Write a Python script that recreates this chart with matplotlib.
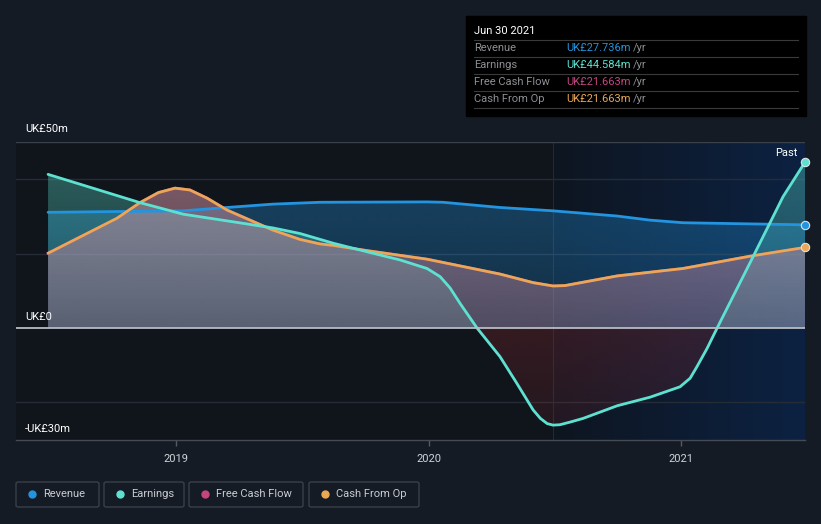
import numpy as np
import matplotlib
matplotlib.use("Agg")
import matplotlib.pyplot as plt
from matplotlib.colors import LinearSegmentedColormap, to_rgb
from matplotlib.patches import FancyBboxPatch, Rectangle
from matplotlib.path import Path

plt.rcParams['font.family'] = ['Roboto', 'DejaVu Sans']

W, H = 821, 524

# values in UK£m, dates as decimal years
rev_t = [2018.493, 2019.028, 2019.202, 2019.384, 2019.570, 2019.994, 2020.057,
         2020.283, 2020.493, 2020.747, 2020.877, 2021.008, 2021.491]
rev_v = [31.1, 31.5, 32.4, 33.3, 33.8, 33.9, 33.8, 32.4, 31.5, 30.1, 29.0, 28.3, 27.736]

earn_t = [2018.493, 2018.857, 2019.028, 2019.202, 2019.384, 2019.491, 2019.622,
          2019.756, 2019.887, 2019.994, 2020.046, 2020.085, 2020.125, 2020.192,
          2020.283, 2020.350, 2020.414, 2020.443, 2020.470, 2020.493, 2020.520,
          2020.560, 2020.612, 2020.747, 2020.877, 2020.996, 2021.036, 2021.063,
          2021.103, 2021.143, 2021.273, 2021.404, 2021.491]
earn_v = [41.3, 33.7, 30.6, 28.8, 26.9, 25.4, 22.8, 20.5, 18.3, 16.0, 13.8, 10.8,
          6.6, 0.0, -7.7, -14.9, -22.0, -24.3, -25.7, -26.1, -26.0, -25.3, -24.3,
          -20.9, -18.6, -15.8, -13.5, -10.4, -5.5, 0.0, 17.5, 35.3, 44.584]

cfo_t = [2018.493, 2018.766, 2018.857, 2018.930, 2018.996, 2019.055, 2019.123,
         2019.202, 2019.384, 2019.491, 2019.570, 2019.622, 2019.756, 2019.994,
         2020.153, 2020.283, 2020.414, 2020.493, 2020.540, 2020.747, 2021.008,
         2021.273, 2021.491]
cfo_v = [20.1, 29.5, 33.7, 36.4, 37.6, 37.1, 34.9, 31.7, 26.3, 23.8, 22.6, 22.2,
         20.8, 18.5, 16.3, 14.5, 12.2, 11.3, 11.4, 14.0, 16.0, 19.3, 21.663]

# free cash flow equals cash from op in this data
fcf_t = cfo_t
fcf_v = cfo_v

C_REV = '#2394df'
C_EARN = '#5de2d2'
C_FCF = '#c4467f'
C_CFO = '#e9a857'
BG = '#151b25'

fig = plt.figure(figsize=(W / 100, H / 100), dpi=100, facecolor=BG)
ax = fig.add_axes([16 / W, 1 - 440 / H, 789 / W, 298 / H])
ax.set_facecolor('#10141b')

x0, x1 = 2018.366, 2021.491
y0, y1 = -30.1, 50
past = 2020.493


def gradient_fill(t, v, color, a_top, a_bot, where=None):
    """fill between line and zero, opacity fading from top of chart to bottom"""
    poly = ax.fill_between(t, v, 0, where=where, interpolate=True,
                           color='none', lw=0)
    paths = poly.get_paths()
    if not paths:
        return
    clip = Path.make_compound_path(*paths)
    n = 256
    img = np.zeros((n, 1, 4))
    img[..., :3] = to_rgb(color)
    img[..., 3] = np.linspace(a_bot, a_top, n).reshape(-1, 1)
    im = ax.imshow(img, extent=[x0, x1, y0, y1], aspect='auto', origin='lower',
                   zorder=2, interpolation='bilinear')
    im.set_clip_path(clip, transform=ax.transData)


# "past" gradient region
cmap = LinearSegmentedColormap.from_list('past', ['#0e1520', '#0c2242'])
grad = np.linspace(0, 1, 256).reshape(1, -1)
ax.imshow(grad, extent=[past, x1, y0, y1], aspect='auto', cmap=cmap, zorder=0)
ax.axvline(past, color='#1f2a3a', lw=0.8, zorder=0.5)

# grid
for g in [40, 20, -20]:
    ax.axhline(g, color='#262c36', lw=1, zorder=1)
ax.axhline(50, color='#3b414b', lw=1, zorder=1)
ax.axhline(0, color='#b8bcc2', lw=1.3, zorder=6)

# fills
ev = np.array(earn_v)
gradient_fill(rev_t, rev_v, C_REV, 0.40, 0.10)
gradient_fill(earn_t, earn_v, C_EARN, 0.38, 0.05, where=ev >= 0)
gradient_fill(earn_t, earn_v, '#8a2a30', 0.55, 0.15, where=ev <= 0)
gradient_fill(fcf_t, fcf_v, C_FCF, 0.40, 0.08)
gradient_fill(cfo_t, cfo_v, '#d8cfc0', 0.35, 0.05)

# lines
ax.plot(rev_t, rev_v, color=C_REV, lw=2, zorder=4, solid_capstyle='round')
ax.plot(earn_t, earn_v, color=C_EARN, lw=2, zorder=5, solid_capstyle='round')
ax.plot(fcf_t, fcf_v, color=C_FCF, lw=2, zorder=4)
ax.plot(cfo_t, cfo_v, color=C_CFO, lw=2, zorder=4.5, solid_capstyle='round')

# end markers
for t, v, c in [(rev_t, rev_v, C_REV), (earn_t, earn_v, C_EARN), (cfo_t, cfo_v, C_CFO)]:
    ax.plot(t[-1], v[-1], 'o', ms=6, color=c, mec='#dde3ea', mew=0.8,
            zorder=7, clip_on=False)

ax.set_xlim(x0, x1)
ax.set_ylim(y0, y1)
ax.set_yticks([])
ax.set_xticks([2019, 2020, 2021])
ax.set_xticklabels(['2019', '2020', '2021'])
ax.tick_params(axis='x', colors='#555b63', length=4, width=1, labelcolor='#d0d3d7',
               labelsize=8, pad=6)
for s in ['top', 'right', 'left']:
    ax.spines[s].set_visible(False)
ax.spines['bottom'].set_color('#454b54')
ax.spines['bottom'].set_linewidth(1)


def ftext(x, y, s, **kw):
    fig.text(x / W, 1 - y / H, s, **kw)


# y labels
ftext(25, 129, 'UK£50m', color='#ffffff', fontsize=8, va='center')
ftext(25, 317, 'UK£0', color='#ffffff', fontsize=8, va='center', zorder=10)
ftext(25, 429, '-UK£30m', color='#ffffff', fontsize=8, va='center')
ftext(797, 153, 'Past', color='#ffffff', fontsize=8, va='center', ha='right')

# tooltip box
fig.patches.append(Rectangle((466 / W, 1 - 116 / H), 340 / W, 100 / H,
                             transform=fig.transFigure, color='#000000', zorder=20))
ftext(474, 31, 'Jun 30 2021', color='#ffffff', fontsize=8, va='center', zorder=21)
rows = ['Revenue', 'Earnings', 'Free Cash Flow', 'Cash From Op']
vals = ['UK£27.736m', 'UK£44.584m', 'UK£21.663m', 'UK£21.663m']
cols = [C_REV, C_EARN, C_FCF, C_CFO]
for i, (r, v, c) in enumerate(zip(rows, vals, cols)):
    yy = 48 + 17 * i
    fig.add_artist(plt.Line2D([474 / W, 798 / W], [1 - (yy - 8) / H] * 2,
                              color='#3a3a3a', lw=0.8, zorder=21))
    ftext(474, yy, r, color='#8c8f94', fontsize=8, va='center', zorder=21)
    ftext(566, yy, v, color=c, fontsize=8, va='center', zorder=21)
    ftext(633, yy, '/yr', color='#8c8f94', fontsize=8, va='center', zorder=21)
fig.add_artist(plt.Line2D([474 / W, 798 / W], [1 - 108 / H] * 2,
                          color='#3a3a3a', lw=0.8, zorder=21))

# legend boxes
legend = [('Revenue', C_REV, 16, 99), ('Earnings', C_EARN, 104, 184),
          ('Free Cash Flow', C_FCF, 189, 303), ('Cash From Op', C_CFO, 309, 419)]
for name, c, lx, rx in legend:
    fig.patches.append(FancyBboxPatch((lx / W, 1 - 507 / H), (rx - lx) / W, 25 / H,
                                      boxstyle='round,pad=0,rounding_size=0.003',
                                      transform=fig.transFigure, fc='none',
                                      ec='#3a404a', lw=1))
    fig.add_artist(plt.Line2D([(lx + 16) / W], [1 - 494 / H], marker='o', ms=5,
                              color=c, lw=0))
    ftext(lx + 27, 494, name, color='#c9ccd0', fontsize=8, va='center')

fig.savefig('out.png', dpi=100, facecolor=BG)
